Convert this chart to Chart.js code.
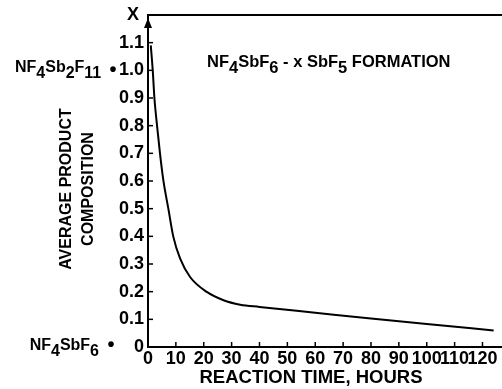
<!DOCTYPE html>
<html>
<head>
<meta charset="utf-8">
<script src="https://cdn.jsdelivr.net/npm/chart.js@4.4.1/dist/chart.umd.min.js"></script>
<style>
  html, body { margin: 0; padding: 0; background: #fff; }
  #wrap { width: 502px; height: 389px; position: relative; }
</style>
</head>
<body>
<div id="wrap"><canvas id="c" width="502" height="389"></canvas></div>
<script>
// ---- data ----
const hours = [1.0, 1.7, 2.3, 3.3, 4.3, 5.5, 7.3, 9.1, 11.5, 15.1, 21.1, 27.1, 33.1, 40, 60, 80, 100, 124];
const composition = [1.09, 1.0, 0.9, 0.795, 0.70, 0.603, 0.50, 0.398, 0.32, 0.253, 0.199, 0.169, 0.153, 0.145, 0.124, 0.103, 0.083, 0.06];
const xTickValues = [0, 10, 20, 30, 40, 50, 60, 70, 80, 90, 100, 110, 120];
const yTickValues = [0, 0.1, 0.2, 0.3, 0.4, 0.5, 0.6, 0.7, 0.8, 0.9, 1.0, 1.1, 1.2];
const titleParts = [["NF", 0], ["4", 1], ["SbF", 0], ["6", 1], [" - x SbF", 0], ["5", 1], [" FORMATION", 0]];
const topLabelParts = [["NF", 0], ["4", 1], ["Sb", 0], ["2", 1], ["F", 0], ["11", 1]];
const bottomLabelParts = [["NF", 0], ["4", 1], ["SbF", 0], ["6", 1]];
const xTitle = "REACTION TIME, HOURS";
const yTitle = ["AVERAGE PRODUCT", "COMPOSITION"];

const FONT = "'Liberation Sans', Arial, sans-serif";

function drawParts(ctx, parts, x, y, font, drop) {
  ctx.font = font;
  ctx.textAlign = 'left';
  ctx.textBaseline = 'alphabetic';
  for (const [t, s] of parts) {
    ctx.fillText(t, x, y + (s ? drop : 0));
    x += ctx.measureText(t).width;
  }
  return x;
}
function partsWidth(ctx, parts, font) {
  ctx.font = font;
  return parts.reduce((w, [t]) => w + ctx.measureText(t).width, 0);
}

const decor = {
  id: 'decor',
  afterDraw(chart) {
    const { ctx, chartArea: a, scales: { x, y } } = chart;
    ctx.save();
    ctx.strokeStyle = '#000';
    ctx.fillStyle = '#000';
    ctx.lineWidth = 2;
    // top frame line
    const yTop = y.getPixelForValue(1.2);
    ctx.beginPath(); ctx.moveTo(a.left, yTop); ctx.lineTo(chart.width, yTop); ctx.stroke();
    // inward ticks
    ctx.lineWidth = 1.5;
    for (const t of y.ticks) {
      if (t.value > 0 && t.value < 1.2) {
        const py = y.getPixelForValue(t.value);
        ctx.beginPath(); ctx.moveTo(a.left, py); ctx.lineTo(a.left + 5, py); ctx.stroke();
      }
    }
    for (const t of x.ticks) {
      if (t.value > 0) {
        const px = x.getPixelForValue(t.value);
        ctx.beginPath(); ctx.moveTo(px, a.bottom); ctx.lineTo(px, a.bottom - 5); ctx.stroke();
      }
    }
    // arrow head on y axis
    ctx.beginPath();
    ctx.moveTo(a.left, yTop + 3);
    ctx.lineTo(a.left - 4, yTop + 13);
    ctx.lineTo(a.left + 4, yTop + 13);
    ctx.closePath(); ctx.fill();

    // chart title with subscripts
    drawParts(ctx, titleParts, 207, 66.5, "bold 16.5px " + FONT, 6);

    // side labels
    const lf = "bold 16px " + FONT;
    const p1 = y.getPixelForValue(1.0);
    drawParts(ctx, topLabelParts, 15, p1 + 1.5, lf, 6);
    const p0 = y.getPixelForValue(0);
    const w = partsWidth(ctx, bottomLabelParts, lf);
    drawParts(ctx, bottomLabelParts, 99 - w, p0 + 2.5, lf, 6);
    ctx.font = "bold 20px " + FONT;
    ctx.textAlign = 'center'; ctx.textBaseline = 'middle';
    ctx.fillText("\u2022", 113, p1);
    ctx.fillText("\u2022", 111, p0 - 1.5);

    // y axis title (two rotated lines)
    ctx.save();
    ctx.font = "bold 16px " + FONT;
    ctx.textAlign = 'center'; ctx.textBaseline = 'middle';
    ctx.translate(67, 189); ctx.rotate(-Math.PI / 2);
    ctx.fillText(yTitle[0], 0, 0);
    ctx.fillText(yTitle[1], 0, 22);
    ctx.restore();

    // x axis title
    ctx.font = "bold 18.5px " + FONT;
    ctx.textAlign = 'center'; ctx.textBaseline = 'middle';
    ctx.fillText(xTitle, 311, 378);
    ctx.restore();
  }
};

new Chart(document.getElementById('c'), {
  type: 'line',
  data: {
    datasets: [{
      data: hours.map((h, i) => ({ x: h, y: composition[i] })),
      borderColor: '#000',
      borderWidth: 2,
      pointRadius: 0,
      fill: false,
      cubicInterpolationMode: 'monotone'
    }]
  },
  options: {
    responsive: false,
    animation: false,
    devicePixelRatio: 1,
    layout: { padding: { top: 15, right: 0, left: 0, bottom: 0 } },
    plugins: { legend: { display: false }, tooltip: { enabled: false }, title: { display: false } },
    scales: {
      x: {
        type: 'linear', min: 0, max: 127,
        afterBuildTicks: s => { s.ticks = xTickValues.map(v => ({ value: v })); },
        afterFit: s => { s.height = 42; },
        grid: { display: false, drawTicks: false },
        border: { display: true, color: '#000', width: 2 },
        ticks: { color: '#000', padding: 1, maxRotation: 0, autoSkip: false,
                 font: { family: FONT, size: 18, weight: 'bold' },
                 callback: v => String(v) }
      },
      y: {
        type: 'linear', min: 0, max: 1.2,
        afterBuildTicks: s => { s.ticks = yTickValues.map(v => ({ value: v })); },
        afterFit: s => { s.width = 148; },
        grid: { display: false, drawTicks: false },
        border: { display: true, color: '#000', width: 2 },
        ticks: { color: '#000', padding: 4, autoSkip: false,
                 font: { family: FONT, size: 18, weight: 'bold' },
                 callback: v => (Math.abs(v - 1.2) < 1e-9 ? 'X ' : (v === 0 ? '0' : v.toFixed(1))) }
      }
    }
  },
  plugins: [decor]
});
</script>
</body>
</html>
